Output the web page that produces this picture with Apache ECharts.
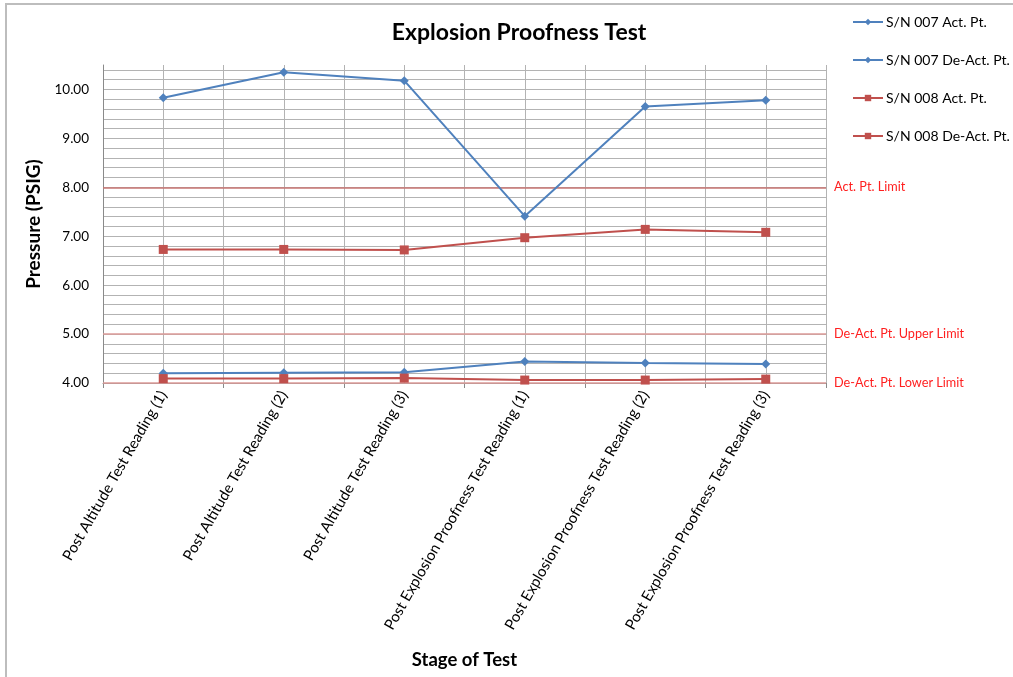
<!DOCTYPE html>
<html>
<head>
<meta charset="utf-8">
<title>Explosion Proofness Test</title>
<script src="https://cdn.jsdelivr.net/npm/echarts@6/dist/echarts.min.js"></script>
<style>
  html, body { margin: 0; padding: 0; background: #ffffff; }
  #chart { width: 1013px; height: 677px; }
</style>
</head>
<body>
<div id="chart"></div>
<script>
// Test stages along the x axis
const categories = [
  'Post Altitude Test Reading (1)',
  'Post Altitude Test Reading (2)',
  'Post Altitude Test Reading (3)',
  'Post Explosion Proofness Test Reading (1)',
  'Post Explosion Proofness Test Reading (2)',
  'Post Explosion Proofness Test Reading (3)'
];

// Pressure readings (PSIG)
const sn007Act   = [9.83, 10.35, 10.18, 7.41, 9.65, 9.78];
const sn007DeAct = [4.20, 4.21, 4.22, 4.44, 4.41, 4.39];
const sn008Act   = [6.73, 6.73, 6.72, 6.97, 7.14, 7.08];
const sn008DeAct = [4.09, 4.09, 4.10, 4.06, 4.06, 4.08];

// Specification limits
const limitValues = [8.0, 5.0, 4.0];
const limitLabels = ['Act. Pt. Limit', 'De-Act. Pt. Upper Limit', 'De-Act. Pt. Lower Limit'];

const FONT = 'Lato, "Open Sans", sans-serif';
const BLUE = '#4f81bd';
const RED = '#c0504d';
const GRID = '#b3b3b3';
const limitColors = ['#c87673', '#dc9b99', '#dc9b99'];

const chart = echarts.init(document.getElementById('chart'), null, { renderer: 'canvas' });

function lineSeries(name, data, color, symbol, size) {
  return {
    name: name,
    type: 'line',
    data: data,
    xAxisIndex: 0,
    yAxisIndex: 0,
    symbol: symbol,
    symbolSize: size,
    lineStyle: { color: color, width: 2 },
    itemStyle: { color: color },
    z: 5
  };
}

const option = {
  backgroundColor: '#ffffff',
  animation: false,
  textStyle: { fontFamily: FONT },
  graphic: [{
    type: 'rect',
    shape: { x: 6, y: 4, width: 1100, height: 800 },
    style: { fill: 'none', stroke: '#bdbdbd', lineWidth: 2 },
    silent: true
  }],
  title: {
    text: 'Explosion Proofness Test',
    left: 514,
    top: 16,
    textAlign: 'center',
    textStyle: { fontFamily: FONT, fontSize: 23, fontWeight: 'bold', color: '#000000' }
  },
  legend: {
    data: ['S/N 007 Act. Pt.', 'S/N 007 De-Act. Pt.', 'S/N 008 Act. Pt.', 'S/N 008 De-Act. Pt.'],
    orient: 'vertical',
    left: 852,
    top: 15,
    padding: 0,
    itemWidth: 30,
    itemHeight: 8,
    itemGap: 24,
    textStyle: { fontFamily: FONT, fontSize: 14, lineHeight: 14, color: '#000000', padding: [0, 0, 0, -2] }
  },
  grid: { left: 103, right: 187, top: 65, bottom: 294, containLabel: false },
  xAxis: [{
    type: 'category',
    data: categories,
    boundaryGap: true,
    axisLine: { show: true, lineStyle: { color: '#8a8a8a', width: 1 } },
    axisTick: { show: true, length: 5, lineStyle: { color: '#8a8a8a' } },
    splitLine: { show: false },
    axisLabel: {
      rotate: 60,
      interval: 0,
      margin: 9,
      fontFamily: FONT,
      fontSize: 15,
      color: '#000000'
    },
    name: 'Stage of Test',
    nameLocation: 'middle',
    nameGap: 268,
    nameTextStyle: { fontFamily: FONT, fontSize: 18.5, fontWeight: 'bold', color: '#000000' }
  }, {
    // half-category vertical gridlines
    type: 'value',
    min: 0,
    max: 12,
    interval: 1,
    position: 'top',
    axisLine: { show: false },
    axisTick: { show: false },
    axisLabel: { show: false },
    splitLine: { show: true, lineStyle: { color: GRID, width: 1 } }
  }],
  yAxis: {
    type: 'value',
    min: 4,
    max: 10.5,
    interval: 0.2,
    axisLine: { show: true, lineStyle: { color: '#8a8a8a', width: 1 } },
    axisTick: { show: false },
    splitLine: { show: true, showMaxLine: false, lineStyle: { color: GRID, width: 1 } },
    axisLabel: {
      fontFamily: FONT,
      fontSize: 13.5,
      color: '#000000',
      margin: 14,
      formatter: function (v) {
        return Math.abs(v - Math.round(v)) < 1e-6 ? v.toFixed(2) : '';
      }
    },
    name: 'Pressure (PSIG)',
    nameLocation: 'middle',
    nameGap: 60,
    nameTextStyle: { fontFamily: FONT, fontSize: 19, fontWeight: 'bold', color: '#000000' }
  },
  series: [
    {
      name: 'Limits',
      type: 'line',
      data: [],
      xAxisIndex: 0,
      yAxisIndex: 0,
      silent: true,
      z: 3,
      markLine: {
        silent: true,
        symbol: 'none',
        animation: false,
        data: limitValues.map(function (v, i) {
          return {
            yAxis: v,
            name: limitLabels[i],
            lineStyle: { color: limitColors[i], width: 1.6, type: 'solid' },
            label: {
              show: true,
              position: 'end',
              distance: 8,
              formatter: limitLabels[i],
              fontFamily: FONT,
              fontSize: 12.7,
              color: '#ff1f1f'
            }
          };
        })
      }
    },
    lineSeries('S/N 007 Act. Pt.', sn007Act, BLUE, 'diamond', 9),
    lineSeries('S/N 007 De-Act. Pt.', sn007DeAct, BLUE, 'diamond', 9),
    lineSeries('S/N 008 Act. Pt.', sn008Act, RED, 'rect', 9),
    lineSeries('S/N 008 De-Act. Pt.', sn008DeAct, RED, 'rect', 9)
  ]
};

chart.setOption(option);
</script>
</body>
</html>
